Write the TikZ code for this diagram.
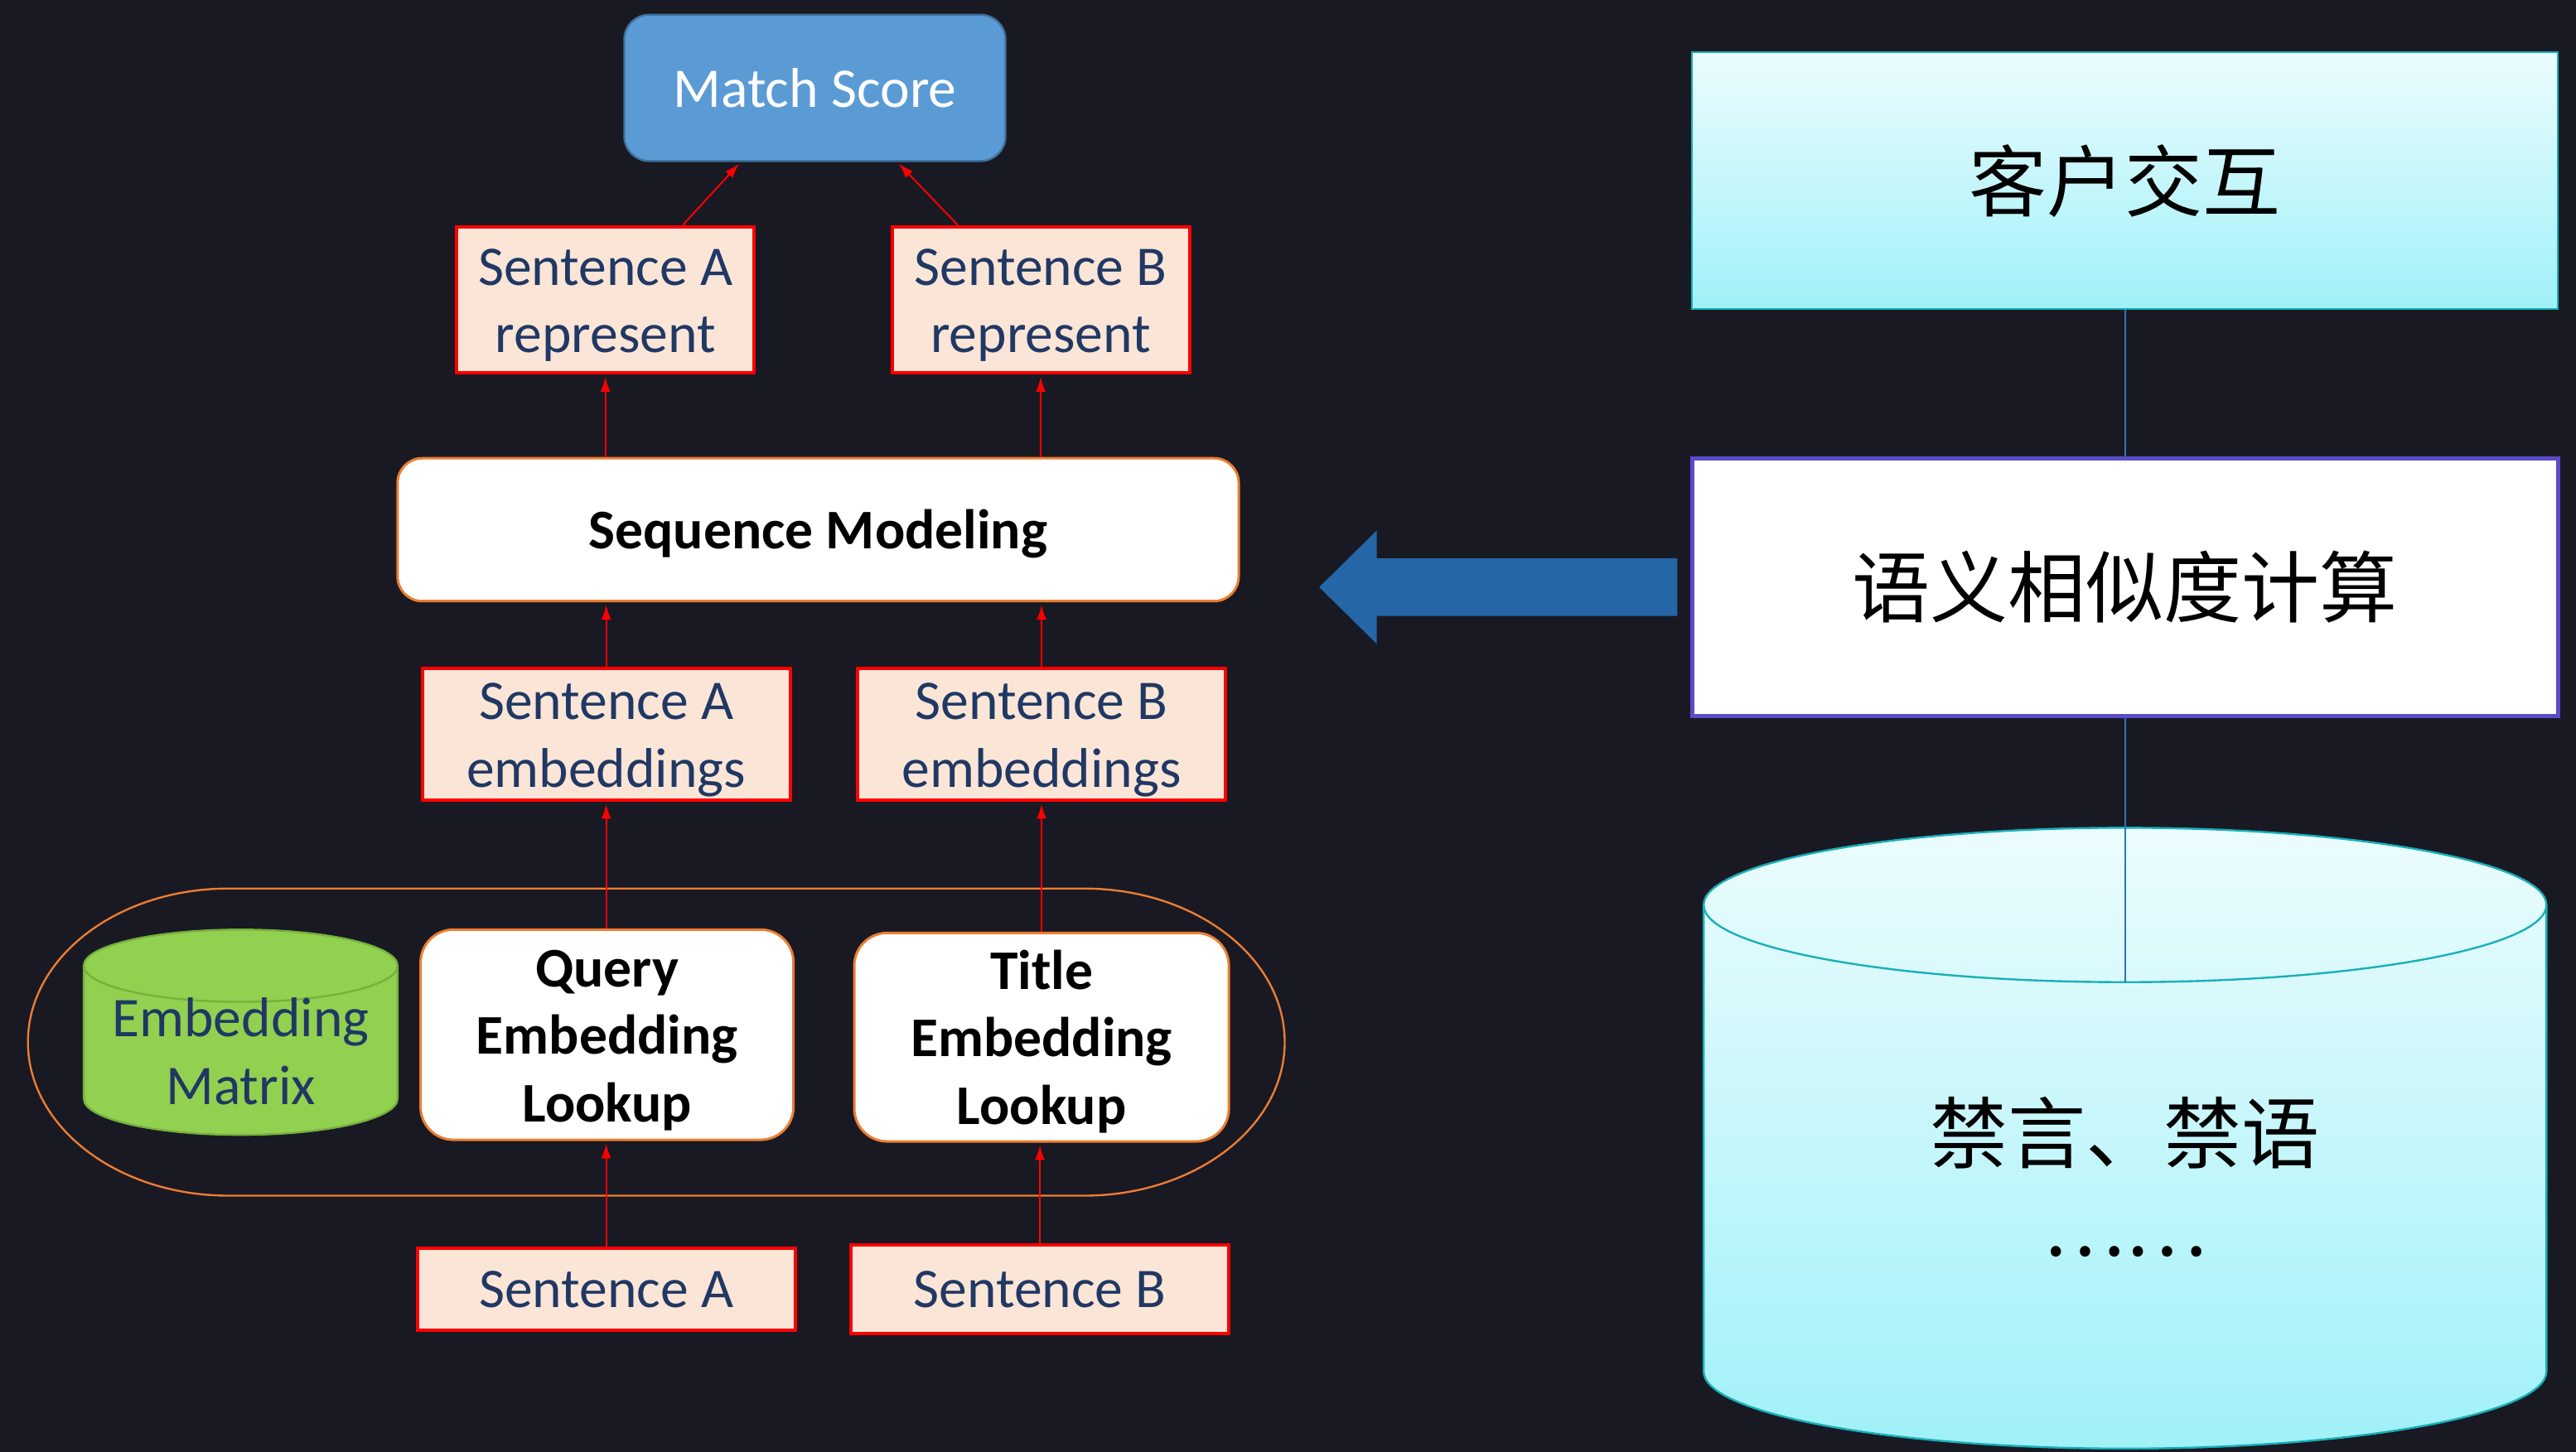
\documentclass[tikz,border=0pt]{standalone}
\usepackage{fontspec}
\setmainfont{Carlito}
\newfontfamily\cjk{Noto Sans CJK SC}
\usetikzlibrary{arrows.meta}
\definecolor{bgcol}{RGB}{25,25,35}
\definecolor{peach}{RGB}{251,229,214}
\definecolor{navy}{RGB}{32,56,100}
\definecolor{scoreblue}{RGB}{91,155,213}
\definecolor{scoreline}{RGB}{65,113,156}
\definecolor{lkorange}{RGB}{237,125,49}
\definecolor{matgreen}{RGB}{146,208,80}
\definecolor{matline}{RGB}{118,176,62}
\definecolor{cyantop}{RGB}{236,252,254}
\definecolor{cyanbot}{RGB}{160,241,248}
\definecolor{cyanline}{RGB}{24,176,184}
\definecolor{calcline}{RGB}{90,75,200}
\definecolor{linkblue}{RGB}{46,117,182}
\definecolor{bigarrow}{RGB}{37,102,166}
\newcommand{\upstrut}{\rule{0pt}{2.9mm}}

\begin{document}
\begin{tikzpicture}[x=0.1mm,y=-0.1mm,
    font=\fontsize{9.7}{11.7}\selectfont,
    scorebox/.style={draw=scoreline,line width=0.12mm,fill=scoreblue,text=white,rounded corners=1.5mm,minimum width=23.2mm,minimum height=8.9mm},
    repbox/.style={draw=red,line width=0.2mm,fill=peach,text=navy,align=center,inner ysep=0pt,minimum width=18.1mm,minimum height=8.9mm},
    lookbox/.style={draw=lkorange,line width=0.15mm,fill=white,align=center,inner ysep=0pt,font=\fontsize{9.7}{11.7}\selectfont\bfseries,rounded corners=2mm},
    redarrow/.style={red,line width=0.1mm,-{Latex[length=0.9mm,width=0.6mm]},shorten >=0.15mm},
    bluelink/.style={linkblue,line width=0.1mm},
    cjktext/.style={font=\fontsize{13.5}{16}\selectfont\cjk,text=black}]
    \fill[bgcol] (0,0) rectangle (1568,884);
    \useasboundingbox (0,0) rectangle (1568,884);

    % left part
    \node[scorebox] (score) at (496,53.5) {Match Score};
    \node[repbox] (repA) at (368.5,182.5) {\upstrut Sentence A\\represent};
    \node[repbox] (repB) at (633.5,182.5) {\upstrut Sentence B\\represent};
    \node[lookbox,rounded corners=1.5mm,minimum width=51.2mm,minimum height=8.7mm] (seq) at (498,322.5) {\upstrut Sequence Modeling};
    \node[repbox,minimum width=22.4mm,minimum height=8mm] (embA) at (369,447) {\upstrut Sentence A\\embeddings};
    \node[repbox,minimum width=22.4mm,minimum height=8mm] (embB) at (634,447) {\upstrut Sentence B\\embeddings};
    \draw[lkorange,line width=0.12mm] (139,541) -- (660,541)
        arc[start angle=90,end angle=-90,x radius=12.2mm,y radius=9.35mm] -- (139,728)
        arc[start angle=270,end angle=90,x radius=12.2mm,y radius=9.35mm] -- cycle;
    \draw[fill=matgreen,draw=matline,line width=0.12mm] (51,588) -- (51,669)
        arc[start angle=180,end angle=360,x radius=9.55mm,y radius=2.2mm] -- (242,588)
        arc[start angle=0,end angle=180,x radius=9.55mm,y radius=2.2mm] -- cycle;
    \draw[matline,line width=0.12mm] (51,588) arc[start angle=180,end angle=360,x radius=9.55mm,y radius=2.2mm];
    \node[text=navy,align=center] (matrix) at (146.5,640) {Embedding\\Matrix};
    \node[lookbox,minimum width=22.7mm,minimum height=12.8mm] (queryLk) at (369.5,630) {\upstrut Query\\Embedding\\Lookup};
    \node[lookbox,minimum width=22.8mm,minimum height=12.7mm] (titleLk) at (634,631.5) {\upstrut Title\\Embedding\\Lookup};
    \node[repbox,minimum width=23mm,minimum height=5mm] (sentA) at (369,785) {Sentence A};
    \node[repbox,minimum width=23mm,minimum height=5.4mm] (sentB) at (633,785) {Sentence B};

    \draw[redarrow] (repA.44) -- (score.225);
    \draw[redarrow] (repB.138) -- (score.-42);
    \draw[redarrow] (seq.north -| repA.south) -- (repA.south);
    \draw[redarrow] (seq.north -| repB.south) -- (repB.south);
    \draw[redarrow] (embA.north) -- (seq.south -| embA.north);
    \draw[redarrow] (embB.north) -- (seq.south -| embB.north);
    \draw[redarrow] (queryLk.north -| embA.south) -- (embA.south);
    \draw[redarrow] (titleLk.north -| embB.south) -- (embB.south);
    \draw[redarrow] (sentA.north) -- (queryLk.south -| sentA.north);
    \draw[redarrow] (sentB.north) -- (titleLk.south -| sentB.north);

    % right part
    \node[cjktext,draw=cyanline,line width=0.1mm,top color=cyantop,bottom color=cyanbot,minimum width=52.7mm,minimum height=15.6mm] (kehu) at (1293.5,110) {客户交互};
    \node[cjktext,draw=calcline,line width=0.25mm,fill=white,minimum width=52.7mm,minimum height=15.7mm] (yuyi) at (1293.5,357.5) {语义相似度计算};
    \draw[top color=cyantop,bottom color=cyanbot,draw=cyanline,line width=0.12mm] (1037,551) -- (1037,835)
        arc[start angle=180,end angle=360,x radius=25.65mm,y radius=4.7mm] -- (1550,551)
        arc[start angle=0,end angle=180,x radius=25.65mm,y radius=4.7mm] -- cycle;
    \draw[cyanline,line width=0.12mm] (1037,551) arc[start angle=180,end angle=360,x radius=25.65mm,y radius=4.7mm];
    \coordinate (dbfront) at (1293.5,598);
    \node[cjktext] (ban) at (1293.5,690) {禁言、禁语};
    \node[cjktext] (dots) at (1293.5,762) {……};
    \draw[bluelink] (kehu) -- (yuyi);
    \draw[bluelink] (yuyi) -- (dbfront);

    \fill[bigarrow] (1021,340) -- (838,340) -- (838,323) -- (803,357.5) -- (838,392) -- (838,375) -- (1021,375) -- cycle;
\end{tikzpicture}
\end{document}
